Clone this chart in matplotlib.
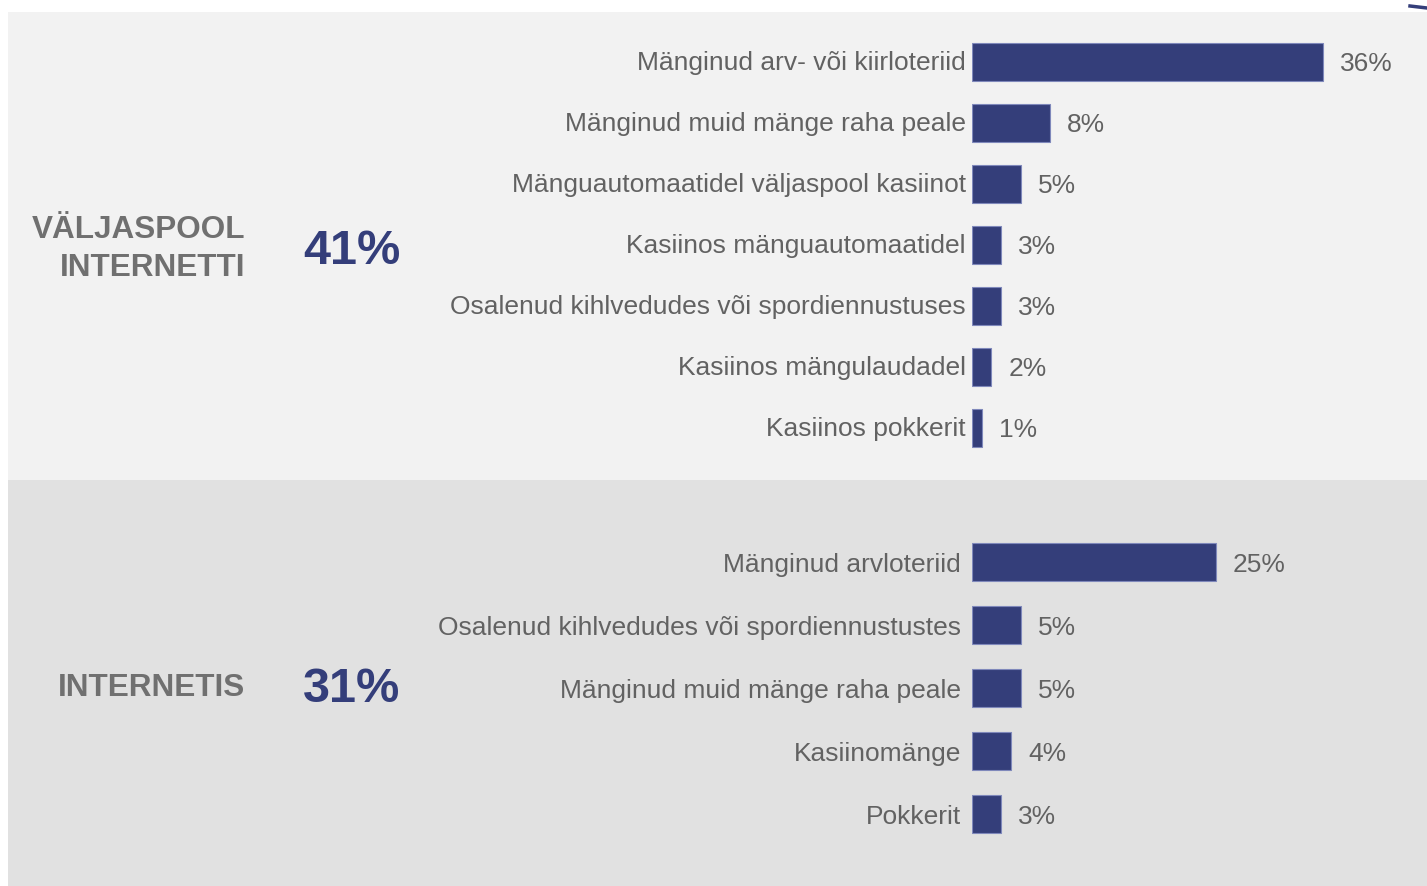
import matplotlib
matplotlib.use("Agg")
import matplotlib.pyplot as plt
from matplotlib.patches import Rectangle
from matplotlib.lines import Line2D

plt.rcParams['font.family'] = ['Liberation Sans', 'DejaVu Sans']

offline_labels = ["Mänginud arv- või kiirloteriid", "Mänginud muid mänge raha peale",
                  "Mänguautomaatidel väljaspool kasiinot", "Kasiinos mänguautomaatidel",
                  "Osalenud kihlvedudes või spordiennustuses", "Kasiinos mängulaudadel",
                  "Kasiinos pokkerit"]
offline_values = [36, 8, 5, 3, 3, 2, 1]
online_labels = ["Mänginud arvloteriid", "Osalenud kihlvedudes või spordiennustustes",
                 "Mänginud muid mänge raha peale", "Kasiinomänge", "Pokkerit"]
online_values = [25, 5, 5, 4, 3]
section_titles = ["VÄLJASPOOL\nINTERNETTI", "INTERNETIS"]
section_totals = ["41%", "31%"]

W, H = 1427, 886
fig = plt.figure(figsize=(W / 100, H / 100), dpi=100)
fig.patch.set_facecolor('white')

def fy(px):
    return 1 - px / H

# panel backgrounds
fig.patches.append(Rectangle((8 / W, fy(480)), (W - 8) / W, 468 / H, transform=fig.transFigure,
                             facecolor='#f2f2f2', edgecolor='none', zorder=-5))
fig.patches.append(Rectangle((8 / W, 0), (W - 8) / W, fy(480), transform=fig.transFigure,
                             facecolor='#e1e1e1', edgecolor='none', zorder=-5))
fig.lines.append(Line2D([1410 / W, 1427 / W], [fy(6), fy(8)], transform=fig.transFigure,
                        color='#343e7a', lw=2.5))

bar_color = '#343e7a'
edge_color = '#7f88bb'
text_gray = '#626262'
px_per_unit = 9.75
x0 = 972
xmax = (W - x0) / px_per_unit

def panel(labels, values, top_px, row_px, bar_h_px, label_pad_px, label_dy):
    n = len(labels)
    ax = fig.add_axes([x0 / W, fy(top_px + n * row_px), (W - x0) / W, n * row_px / H])
    ax.set_xlim(0, xmax)
    ax.set_ylim(n - 0.5, -0.5)
    ax.axis('off')
    ax.set_zorder(2)
    ax.patch.set_visible(False)
    ys = list(range(n))
    ax.barh(ys, values, height=bar_h_px / row_px, color=bar_color, edgecolor=edge_color,
            linewidth=0.8)
    for y, lab, v in zip(ys, labels, values):
        ax.text(-label_pad_px / px_per_unit, y + label_dy, lab, ha='right', va='center',
                fontsize=19, color=text_gray, clip_on=False)
        ax.text(v + 17 / px_per_unit, y + 0.04, f"{v}%", ha='left', va='center',
                fontsize=19, color=text_gray, clip_on=False)
    return ax

panel(offline_labels, offline_values, 31.5, 61, 38, 6, 0.02)
panel(online_labels, online_values, 530.5, 63, 38, 11, 0.04)

fig.text(245 / W, fy(249), section_titles[0], ha='right', va='center', multialignment='right',
         fontsize=22.7, fontweight='bold', color='#707070', linespacing=1.38)
fig.text(245 / W, fy(688), section_titles[1], ha='right', va='center',
         fontsize=22.7, fontweight='bold', color='#707070')
fig.text(352 / W, fy(251), section_totals[0], ha='center', va='center',
         fontsize=35, fontweight='bold', color=bar_color)
fig.text(352 / W, fy(689), section_totals[1], ha='center', va='center',
         fontsize=35, fontweight='bold', color=bar_color)

fig.savefig('out.png', dpi=100, facecolor='white')
